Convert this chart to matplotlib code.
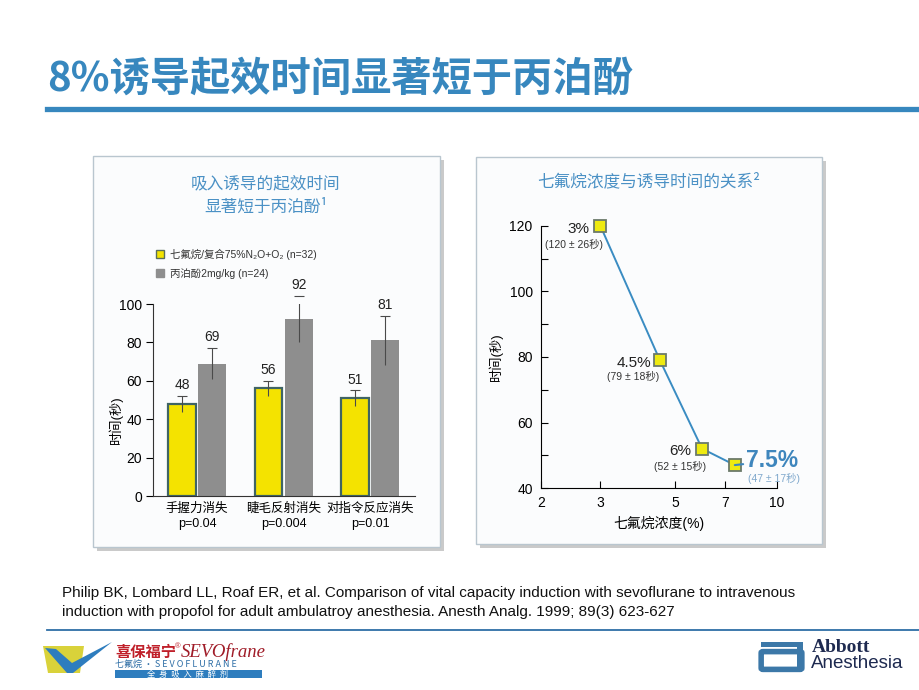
import matplotlib
matplotlib.use('Agg')
import matplotlib.pyplot as plt
from matplotlib.patches import Rectangle, FancyBboxPatch, Polygon, Patch
from matplotlib.lines import Line2D
from matplotlib.ticker import FixedLocator, NullLocator, MultipleLocator

plt.rcParams['font.family'] = ['Liberation Sans', 'Noto Sans CJK SC', 'DejaVu Sans']

# left chart data
groups = ['手握力消失\np=0.04', '睫毛反射消失\np=0.004', '对指令反应消失\np=0.01']
sevo_vals = [48, 56, 51]
sevo_err = [4, 4, 4]
prop_vals = [69, 92, 81]
prop_err = [8, 12, 13]
sevo_label = '七氟烷/复合75%N₂O+O₂ (n=32)'
prop_label = '丙泊酚2mg/kg (n=24)'

# right chart data
conc = [3, 4.5, 6, 7.5]
induct_time = [120, 79, 52, 47]
induct_sd = [26, 18, 15, 17]
conc_ticks = [2, 3, 5, 7, 10]

W, H = 920, 690
fig = plt.figure(figsize=(W / 100, H / 100), dpi=100)


def fx(x):
    return x / W


def fy(y):
    return 1 - y / H


blue = '#3787BE'
light_blue = '#4B91C5'

# title and rule
fig.text(fx(47), fy(79), '8%诱导起效时间显著短于丙泊酚', fontsize=29, fontweight='bold',
         color=blue, family=['Noto Sans CJK SC'], va='center', ha='left')
fig.add_artist(Line2D([fx(47), 1], [fy(109), fy(109)], color=blue, lw=3.8))

# panels (behind the axes)
for (x0, y0, x1, y1) in [(93, 156, 440, 547), (476, 157, 822, 544)]:
    fig.add_artist(Rectangle((fx(x0 + 4), fy(y1 + 4)), fx(x1 - x0), (y1 - y0) / H,
                             facecolor='#A8A8A8', edgecolor='none', alpha=0.6, zorder=-2))
    fig.add_artist(Rectangle((fx(x0), fy(y1)), fx(x1 - x0), (y1 - y0) / H,
                             facecolor='#FBFCFD', edgecolor='#B9C6CF', lw=1, zorder=-1))

# ---------------- left chart ----------------
fig.text(fx(266), fy(184), '吸入诱导的起效时间', fontsize=12, color=light_blue,
         ha='center', va='center', family=['Noto Sans CJK SC'])
fig.text(fx(266), fy(207), '显著短于丙泊酚¹', fontsize=12, color=light_blue,
         ha='center', va='center', family=['Noto Sans CJK SC', 'DejaVu Sans'])

ax1 = fig.add_axes([fx(153), fy(496), (415 - 153) / W, (496 - 304) / H])
ax1.set_facecolor('none')
xs = list(range(len(groups)))
bw = 0.32
xs_s = [x - 0.175 for x in xs]
xs_p = [x + 0.175 for x in xs]
ax1.bar(xs_s, sevo_vals, width=bw, color='#F4E300', edgecolor='#3F6464', lw=1.6, zorder=2)
ax1.bar(xs_p, prop_vals, width=bw, color='#8E8E8E', edgecolor='none', zorder=2)
for xpos, v, e in list(zip(xs_s, sevo_vals, sevo_err)) + list(zip(xs_p, prop_vals, prop_err)):
    ax1.vlines(xpos, v - e, v + e, color='#4A4A4A', lw=0.8, zorder=3)
    ax1.plot([xpos], [v + e], marker='_', ms=7, mew=0.8, color='#4A4A4A', zorder=3, clip_on=False)
    ax1.text(xpos, v + e + 2, str(v), ha='center', va='bottom', fontsize=10, color='#222222')
ax1.set_xlim(-0.51, 2.52)
ax1.set_ylim(0, 100)
ax1.set_yticks([0, 20, 40, 60, 80, 100])
ax1.set_xticks(xs)
ax1.set_xticklabels(groups, fontsize=9, linespacing=1.3)
ax1.tick_params(axis='x', length=0, pad=5)
ax1.tick_params(axis='y', direction='out', length=5, width=0.8, labelsize=10, pad=3)
for s in ['top', 'right']:
    ax1.spines[s].set_visible(False)
ax1.spines['left'].set_color('#333333')
ax1.spines['bottom'].set_color('#333333')
ax1.set_ylabel('时间(秒)', fontsize=9.5)
ax1.yaxis.set_label_coords(-0.115, 0.40)

handles = [Patch(facecolor='#F4E300', edgecolor='#5A6E5A', lw=1),
           Patch(facecolor='#8E8E8E', edgecolor='#8E8E8E', lw=1)]
fig.legend(handles, [sevo_label, prop_label], loc='upper left',
           bbox_to_anchor=(fx(147), fy(239)), frameon=False, fontsize=7.5,
           handlelength=0.75, handleheight=0.75, handletextpad=0.6, labelspacing=0.8,
           labelcolor='#333333')

# ---------------- right chart ----------------
fig.text(fx(649), fy(182), '七氟烷浓度与诱导时间的关系²', fontsize=12, color=light_blue,
         ha='center', va='center', family=['Noto Sans CJK SC', 'DejaVu Sans'])

ax2 = fig.add_axes([fx(541), fy(488), (777 - 541) / W, (488 - 226) / H])
ax2.set_facecolor('none')
ax2.plot(conc, induct_time, color='#3A8CC2', lw=1.4, zorder=2)
ax2.plot(conc, induct_time, ls='none', marker='s', ms=8, mfc='#EEEA10', mec='#6B7A6A',
         mew=1.3, zorder=3, clip_on=False)
ax2.set_xscale('log')
ax2.set_xlim(2, 10)
ax2.set_ylim(40, 120)
ax2.xaxis.set_major_locator(FixedLocator(conc_ticks))
ax2.xaxis.set_minor_locator(NullLocator())
ax2.set_xticklabels([str(t) for t in conc_ticks])
ax2.yaxis.set_major_locator(MultipleLocator(20))
ax2.yaxis.set_minor_locator(MultipleLocator(10))
ax2.tick_params(axis='both', which='major', direction='in', length=5, width=0.8, labelsize=10)
ax2.tick_params(axis='y', which='minor', direction='in', length=5, width=0.8)
ax2.tick_params(axis='x', pad=6)
ax2.tick_params(axis='y', pad=6)
for s in ['top', 'right']:
    ax2.spines[s].set_visible(False)
ax2.set_ylabel('时间(秒)', fontsize=9.5)
ax2.yaxis.set_label_coords(-0.16, 0.5)
ax2.set_xlabel('七氟烷浓度(%)', fontsize=10, labelpad=4)

# point labels: offsets in points
label_off = [(-16, -2), (-19, -2), (-16, -2)]
sub_off = [(-19, -13), (-19, -12), (-16, -13)]
for i in range(3):
    ax2.annotate(f'{conc[i]:g}%', (conc[i], induct_time[i]), xytext=label_off[i],
                 textcoords='offset points', ha='center', va='center', fontsize=11, color='#222222')
    ax2.annotate(f'({induct_time[i]} ± {induct_sd[i]}秒)', (conc[i], induct_time[i]),
                 xytext=sub_off[i], textcoords='offset points', ha='center', va='center',
                 fontsize=7.5, color='#333333')
ax2.annotate(f'{conc[3]:g}%', (conc[3], induct_time[3]), xytext=(8, 3),
             textcoords='offset points', ha='left', va='center', fontsize=16.5,
             fontweight='bold', color='#3E86BD',
             arrowprops=dict(arrowstyle='-', color='#3E86BD', lw=1.5, shrinkA=0, shrinkB=0))
ax2.annotate(f'({induct_time[3]} ± {induct_sd[3]}秒)', (conc[3], induct_time[3]),
             xytext=(28, -10), textcoords='offset points', ha='center', va='center',
             fontsize=7.5, color='#7FA8CC')

# ---------------- footer ----------------
fig.text(fx(62), fy(593), 'Philip BK, Lombard LL, Roaf ER, et al. Comparison of vital capacity induction '
         'with sevoflurane to intravenous', fontsize=11, color='#111111', va='center')
fig.text(fx(62), fy(612), 'induction with propofol for adult ambulatroy anesthesia. Anesth Analg. '
         '1999; 89(3) 623-627', fontsize=11, color='#111111', va='center')
fig.add_artist(Line2D([fx(47), 1], [fy(630), fy(630)], color='#2E6EA6', lw=1.3))

# left logo
fig.add_artist(Polygon([(fx(43), fy(646)), (fx(84), fy(646)), (fx(80), fy(673)), (fx(48), fy(673))],
                       closed=True, facecolor='#D9D23A', edgecolor='none'))
fig.add_artist(Polygon([(fx(45), fy(648)), (fx(56), fy(649)), (fx(72), fy(663)), (fx(112), fy(642)),
                        (fx(73), fy(673)), (fx(67), fy(673))],
                       closed=True, facecolor='#2E7DBE', edgecolor='none'))
fig.text(fx(115), fy(652), '喜保福宁', fontsize=11, fontweight='bold', color='#C0202A',
         va='center', family=['Noto Sans CJK SC'])
fig.text(fx(175), fy(647), '®', fontsize=5.5, color='#C0202A', va='center')
fig.text(fx(181), fy(652), 'SEVOfrane', fontsize=13.5, style='italic', color='#A01C28',
         va='center', family=['Liberation Serif'])
fig.text(fx(115), fy(664), '七氟烷 · S E V O F L U R A N E', fontsize=6.5, color='#2E6EA6',
         va='center', family=['Noto Sans CJK SC', 'DejaVu Sans'])
fig.add_artist(Rectangle((fx(115), fy(678)), fx(147), 8 / H, facecolor='#2E7DBE', edgecolor='none'))
fig.text(fx(188), fy(674), '全  身  吸  入  麻  醉  剂', fontsize=6, color='white',
         ha='center', va='center', family=['Noto Sans CJK SC'])

# Abbott logo
fig.add_artist(FancyBboxPatch((fx(763), fy(668)), fx(37), 15 / H,
                              boxstyle='round,pad=0.002', facecolor='none',
                              edgecolor='#3C78A8', lw=4))
fig.add_artist(Rectangle((fx(761), fy(647)), fx(42), 5 / H, facecolor='#3C78A8', edgecolor='none'))
fig.add_artist(Rectangle((fx(797), fy(668)), fx(6), 21 / H, facecolor='#3C78A8', edgecolor='none'))
fig.text(fx(812), fy(647), 'Abbott', fontsize=14, fontweight='bold', color='#1E2A50',
         va='center', family=['Liberation Serif'])
fig.text(fx(811), fy(663), 'Anesthesia', fontsize=13.5, color='#1E2A50', va='center')

fig.savefig('out.png', dpi=100)
